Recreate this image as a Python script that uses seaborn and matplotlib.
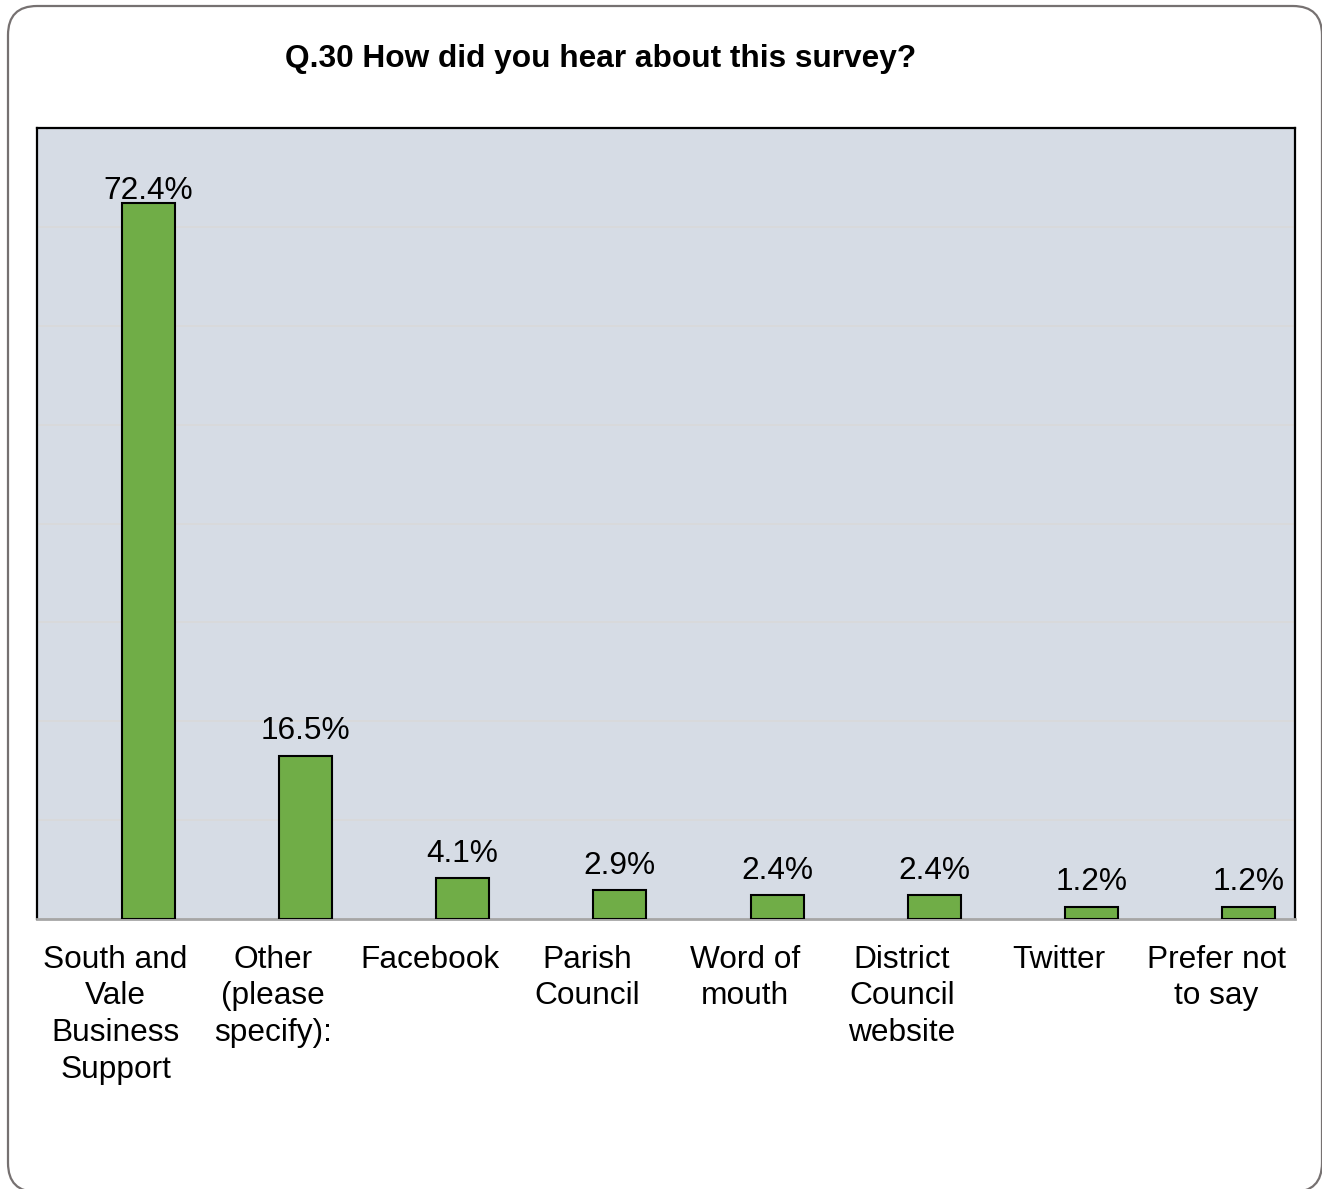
import matplotlib
matplotlib.use("Agg")
import matplotlib.pyplot as plt
from matplotlib.patches import FancyBboxPatch
import numpy as np
import pandas as pd
import seaborn as sns

# Survey responses: Q.30 How did you hear about this survey?
categories = [
    "South and\nVale\nBusiness\nSupport",
    "Other\n(please\nspecify):",
    "Facebook",
    "Parish\nCouncil",
    "Word of\nmouth",
    "District\nCouncil\nwebsite",
    "Twitter",
    "Prefer not\nto say",
]
percentages = [72.4, 16.5, 4.1, 2.9, 2.4, 2.4, 1.2, 1.2]
value_labels = ["72.4%", "16.5%", "4.1%", "2.9%", "2.4%", "2.4%", "1.2%", "1.2%"]

sns.set_style("white")
plt.rcParams["font.family"] = ["Liberation Sans", "DejaVu Sans"]
plt.rcParams["text.color"] = "black"
plt.rcParams["xtick.color"] = "black"

W, H = 1322, 1189
fig = plt.figure(figsize=(W / 100, H / 100), dpi=100)

# Rounded outer frame of the chart area
frame = FancyBboxPatch(
    (8 / W, 1 - 1192 / H), (1322 - 8) / W, (1192 - 6) / H,
    boxstyle="round,pad=0,rounding_size=0.022",
    transform=fig.transFigure, facecolor="white", edgecolor="#767171",
    linewidth=1.6, mutation_aspect=W / H, zorder=-5,
)
fig.patches.append(frame)

ax = fig.add_axes([37 / W, 1 - 919 / H, (1295 - 37) / W, (919 - 128) / H])
ax.set_zorder(2)
ax.set_facecolor("#d6dce5")

# Bars sit to the right of each category slot
offset = 0.206
df = pd.DataFrame({
    "pos": np.arange(len(categories)) + offset,
    "pct": percentages,
})
sns.barplot(data=df, x="pos", y="pct", native_scale=True, width=0.337,
            color="#70ad47", saturation=1, edgecolor="black", linewidth=1.5,
            ax=ax, zorder=3)

ymax = 80
ax.set_xlim(-0.5, len(categories) - 0.5)
ax.set_ylim(0, ymax)
ax.set_yticks(np.arange(0, ymax + 1, 10))
ax.yaxis.grid(True, color="#d9d9d9", linewidth=1.2, zorder=0)
ax.set_axisbelow(True)
ax.tick_params(axis="y", left=False, labelleft=False)
ax.set_xticks(np.arange(len(categories)))
ax.set_xticklabels(categories, fontsize=22.8, linespacing=1.29, color="black")
ax.tick_params(axis="x", bottom=False, pad=15)
ax.set_xlabel("")
ax.set_ylabel("")

for side in ("top", "left", "right"):
    ax.spines[side].set_color("black")
    ax.spines[side].set_linewidth(1.6)
ax.spines["bottom"].set_color("#a6a6a6")
ax.spines["bottom"].set_linewidth(2)

# Value labels above each bar; tall bars keep their label tucked closer
for bar, txt in zip(ax.patches, value_labels):
    h = bar.get_height()
    dy = -2 if h / ymax > 0.85 else 7
    ax.annotate(txt, (bar.get_x() + bar.get_width() / 2, h),
                xytext=(0, dy), textcoords="offset points",
                ha="center", va="bottom", fontsize=22.8, color="black")

fig.text(601 / W, 1 - 59 / H, "Q.30 How did you hear about this survey?",
         ha="center", va="center", fontsize=22.8, fontweight="bold",
         color="black")

fig.savefig("out.png", dpi=100)
